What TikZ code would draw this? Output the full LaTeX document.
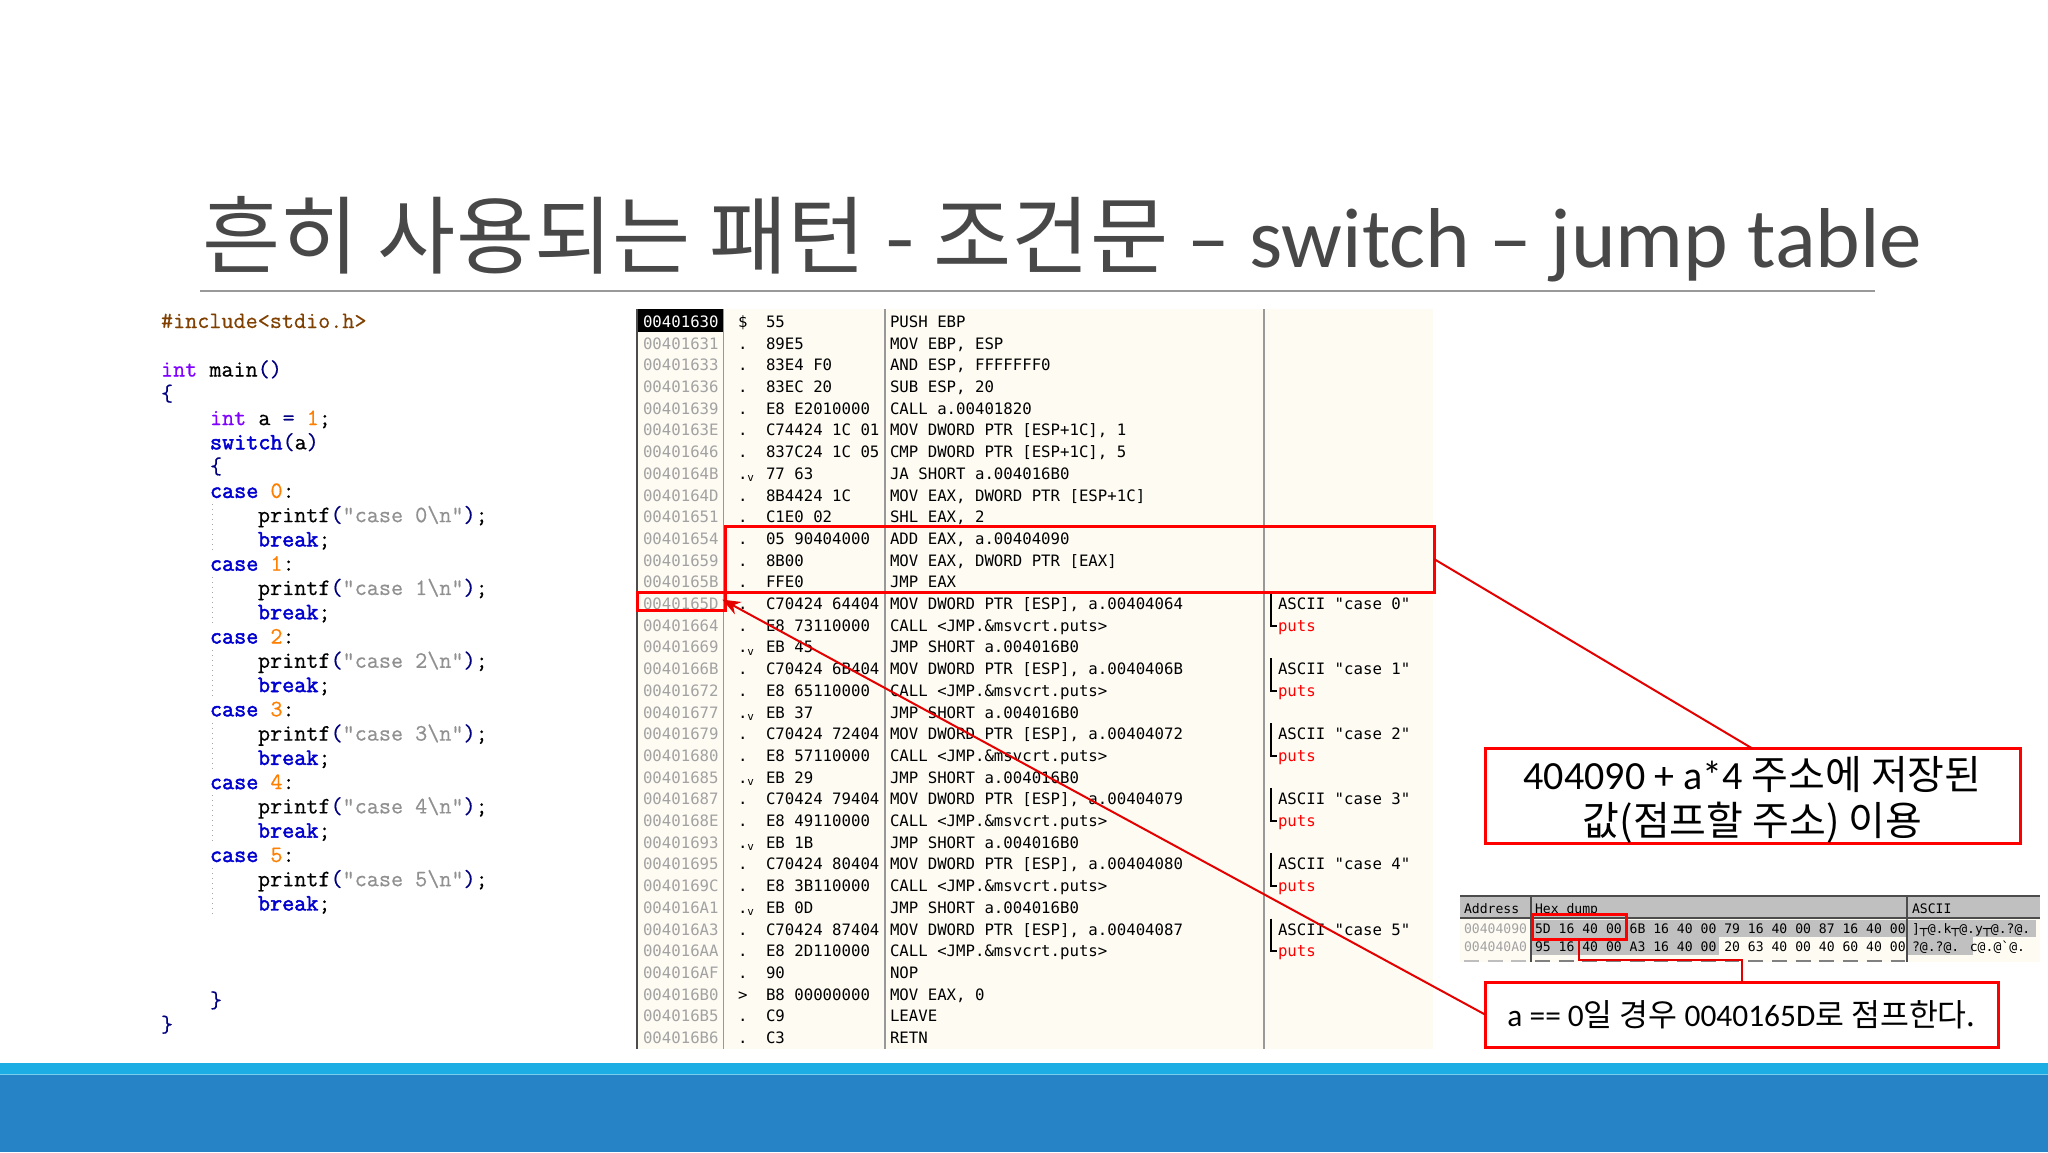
\documentclass[tikz,border=0pt]{standalone}
\usepackage{fontspec}
\usetikzlibrary{arrows.meta,calc}
\newfontfamily\krfont{Noto Sans CJK KR}
\newfontfamily\latfont{Carlito}
\newfontfamily\ollyfont{DejaVu Sans Mono}
\newfontfamily\codefont[FakeBold=0.5]{Latin Modern Mono}
\newfontfamily\codeheavy[FakeBold=2]{Latin Modern Mono}
\definecolor{cream}{HTML}{FEFBF3}
\definecolor{addrgray}{HTML}{A2A2A2}
\definecolor{hdrgray}{HTML}{C0C0C0}
\definecolor{cpurple}{HTML}{8000FF}
\definecolor{cblue}{HTML}{0000D0}
\definecolor{cnavy}{HTML}{000080}
\definecolor{corange}{HTML}{FF8000}
\definecolor{cstr}{HTML}{909090}
\definecolor{cbrown}{HTML}{804000}
\definecolor{titlegray}{HTML}{484848}
\definecolor{skyband}{HTML}{1CADE4}
\definecolor{deepband}{HTML}{2683C6}
\newcommand{\K}[1]{{\krfont #1}}
\newcommand{\kw}[1]{{\codeheavy\textcolor{cblue}{#1}}}
\tikzset{
  olly/.style={inner sep=0pt,outer sep=0pt,anchor=base west,font=\ollyfont\fontsize{7.85}{9}\selectfont,text=black},
  dumpt/.style={inner sep=0pt,outer sep=0pt,anchor=base west,font=\ollyfont\fontsize{6.55}{8}\selectfont,text=black},
  code/.style={inner sep=0pt,outer sep=0pt,anchor=base west,font=\codefont\fontsize{11.74}{13}\selectfont,text=black},
  redbox/.style={draw=red,line width=1.5pt,inner sep=0pt,outer sep=0pt},
  redline/.style={draw=red!90!black,line width=1pt},
  callout/.style={redbox,fill=white,align=center,text=black,font=\latfont},
  guide/.style={draw=gray!70,line width=.5pt,dotted},
  sep/.style={draw=gray!80,line width=.6pt},
  brk/.style={draw=black,line width=.8pt},
  cutrow/.style={line width=1pt,dash pattern=on 7.4pt off 4.45pt}
}
\newcommand{\mkv}{.\raisebox{-1.2pt}{\fontsize{5.5}{6}\selectfont v}}
\newcommand{\orow}[5]{%
  \pgfmathsetmacro\yy{327.4+21.7*#1}
  \node[olly,text=addrgray] (a#1) at (643,\yy) {#2};
  \node[olly] (m#1) at (738,\yy) {#3};
  \node[olly] (h#1) at (766,\yy) {#4};
  \node[olly] (d#1) at (890,\yy) {#5};
}
\newcommand{\ocom}[2]{%
  \pgfmathsetmacro\yy{327.4+21.7*#1}
  \pgfmathsetmacro\yz{\yy+21.7}
  \node[olly] (ca#1) at (1278,\yy) {ASCII "case #2"};
  \node[olly,text=red] (cp#1) at (1278,\yz) {puts};
  \coordinate (bt#1) at (1271,\yy-16.5);
  \coordinate (bb#1) at (1271,\yz-5.5);
  \coordinate (be#1) at (1277,\yz-5.5);
  \draw[brk] (bt#1) -- (bb#1) -- (be#1);
}
\newcommand{\cl}[3]{%
  \pgfmathsetmacro\yy{328+24.27*#1}
  \node[code] (c#1) at (#2,\yy) {#3};
}
\newcommand{\casecode}[1]{%
  \pgfmathtruncatemacro\la{7+3*#1}
  \pgfmathtruncatemacro\lb{8+3*#1}
  \pgfmathtruncatemacro\lc{9+3*#1}
  \cl{\la}{210}{\kw{case} \textcolor{corange}{#1}:}
  \cl{\lb}{258}{printf\textcolor{cnavy}{(}\textcolor{cstr}{"case #1\textbackslash n"}\textcolor{cnavy}{)};}
  \cl{\lc}{258}{\kw{break};}
  \draw[guide] (212,322+24.27*\lb-12) -- (212,322+24.27*\lc+12);
}
\begin{document}
\begin{tikzpicture}[x=0.5pt,y=-0.5pt]
\useasboundingbox (0,0) rectangle (2048,1152);
\fill[white] (0,0) rectangle (2048,1152);
% bands
\fill[skyband] (0,1063) rectangle (2048,1075);
\fill[deepband] (0,1075) rectangle (2048,1152);
\fill[skyband!60!white] (0,1074) rectangle (2048,1075);
% title
\node[inner sep=0pt,anchor=base west,text=titlegray,font=\latfont\fontsize{42.5}{46}\selectfont] (title) at (202,267)
  {\K{흔히 사용되는 패턴 - 조건문} – switch – jump table};
\coordinate (ruleL) at (200,291);
\coordinate (ruleR) at (1875,291);
\draw[draw=gray!80,line width=.6pt] (ruleL) -- (ruleR);
% source code
\cl{0}{161}{\textcolor{cbrown}{\#include<stdio.h>}}
\cl{2}{161}{\textcolor{cpurple}{int} main\textcolor{cnavy}{()}}
\cl{3}{161}{\textcolor{cnavy}{\{}}
\cl{4}{210}{\textcolor{cpurple}{int} a \textcolor{cnavy}{=} \textcolor{corange}{1};}
\cl{5}{210}{\kw{switch}\textcolor{cnavy}{(}a\textcolor{cnavy}{)}}
\cl{6}{210}{\textcolor{cnavy}{\{}}
\casecode{0}\casecode{1}\casecode{2}\casecode{3}\casecode{4}\casecode{5}
\cl{28}{210}{\textcolor{cnavy}{\}}}
\cl{29}{161}{\textcolor{cnavy}{\}}}
% disassembly panel
\fill[cream] (637,309) rectangle (1433,1049);
\fill[black] (637,309) rectangle (723,332);
\draw[draw=black!70,line width=.7pt] (637,309) -- (637,1049);
\draw[sep] (723.5,309) -- (723.5,1049);
\draw[sep] (885,309) -- (885,1049);
\draw[sep] (1264,309) -- (1264,1049);
\orow{0}{\textcolor{white}{00401630}}{\$}{55}{PUSH EBP}
\orow{1}{00401631}{.}{89E5}{MOV EBP, ESP}
\orow{2}{00401633}{.}{83E4 F0}{AND ESP, FFFFFFF0}
\orow{3}{00401636}{.}{83EC 20}{SUB ESP, 20}
\orow{4}{00401639}{.}{E8 E2010000}{CALL a.00401820}
\orow{5}{0040163E}{.}{C74424 1C 01}{MOV DWORD PTR [ESP+1C], 1}
\orow{6}{00401646}{.}{837C24 1C 05}{CMP DWORD PTR [ESP+1C], 5}
\orow{7}{0040164B}{\mkv}{77 63}{JA SHORT a.004016B0}
\orow{8}{0040164D}{.}{8B4424 1C}{MOV EAX, DWORD PTR [ESP+1C]}
\orow{9}{00401651}{.}{C1E0 02}{SHL EAX, 2}
\orow{10}{00401654}{.}{05 90404000}{ADD EAX, a.00404090}
\orow{11}{00401659}{.}{8B00}{MOV EAX, DWORD PTR [EAX]}
\orow{12}{0040165B}{.}{FFE0}{JMP EAX}
\orow{13}{0040165D}{.}{C70424 64404}{MOV DWORD PTR [ESP], a.00404064}
\orow{14}{00401664}{.}{E8 73110000}{CALL <JMP.\&msvcrt.puts>}
\orow{15}{00401669}{\mkv}{EB 45}{JMP SHORT a.004016B0}
\orow{16}{0040166B}{.}{C70424 6B404}{MOV DWORD PTR [ESP], a.0040406B}
\orow{17}{00401672}{.}{E8 65110000}{CALL <JMP.\&msvcrt.puts>}
\orow{18}{00401677}{\mkv}{EB 37}{JMP SHORT a.004016B0}
\orow{19}{00401679}{.}{C70424 72404}{MOV DWORD PTR [ESP], a.00404072}
\orow{20}{00401680}{.}{E8 57110000}{CALL <JMP.\&msvcrt.puts>}
\orow{21}{00401685}{\mkv}{EB 29}{JMP SHORT a.004016B0}
\orow{22}{00401687}{.}{C70424 79404}{MOV DWORD PTR [ESP], a.00404079}
\orow{23}{0040168E}{.}{E8 49110000}{CALL <JMP.\&msvcrt.puts>}
\orow{24}{00401693}{\mkv}{EB 1B}{JMP SHORT a.004016B0}
\orow{25}{00401695}{.}{C70424 80404}{MOV DWORD PTR [ESP], a.00404080}
\orow{26}{0040169C}{.}{E8 3B110000}{CALL <JMP.\&msvcrt.puts>}
\orow{27}{004016A1}{\mkv}{EB 0D}{JMP SHORT a.004016B0}
\orow{28}{004016A3}{.}{C70424 87404}{MOV DWORD PTR [ESP], a.00404087}
\orow{29}{004016AA}{.}{E8 2D110000}{CALL <JMP.\&msvcrt.puts>}
\orow{30}{004016AF}{.}{90}{NOP}
\orow{31}{004016B0}{>}{B8 00000000}{MOV EAX, 0}
\orow{32}{004016B5}{.}{C9}{LEAVE}
\orow{33}{004016B6}{.}{C3}{RETN}
\ocom{13}{0}\ocom{16}{1}\ocom{19}{2}\ocom{22}{3}\ocom{25}{4}\ocom{28}{5}
% hex dump
\fill[cream] (1460,918) rectangle (2040,962);
\fill[hdrgray] (1460,896) rectangle (2040,918);
\fill[hdrgray] (1532,920) rectangle (1907,937);
\fill[hdrgray] (1532,937) rectangle (1719,955);
\fill[hdrgray] (1907,920) rectangle (2036,937);
\fill[hdrgray] (1907,937) rectangle (1973,955);
\draw[draw=black!70,line width=.6pt] (1460,896) -- (2040,896);
\draw[draw=black!70,line width=.8pt] (1460,918) -- (2040,918);
\draw[draw=black!70,line width=.6pt] (1531,896) -- (1531,962);
\draw[draw=black!70,line width=.6pt] (1907,896) -- (1907,962);
\node[dumpt] (hA) at (1464,913) {Address};
\node[dumpt] (hH) at (1535,913) {Hex dump};
\node[dumpt] (hS) at (1912,913) {ASCII};
\node[dumpt,text=addrgray] (r1a) at (1464,933) {00404090};
\node[dumpt] (r1h) at (1535,933) {5D 16 40 00 6B 16 40 00 79 16 40 00 87 16 40 00};
\node[dumpt] (r1s) at (1912,933) {]┬@.k┬@.y┬@.?@.};
\node[dumpt,text=addrgray] (r2a) at (1464,951) {004040A0};
\node[dumpt] (r2h) at (1535,951) {95 16 40 00 A3 16 40 00 20 63 40 00 40 60 40 00};
\node[dumpt] (r2s) at (1912,951) {?@.?@. c@.@`@.};
\coordinate (cutA) at (1464,961);
\coordinate (cutB) at (1527,961);
\coordinate (cutC) at (1535,961);
\coordinate (cutD) at (1905,961);
\draw[cutrow,draw=addrgray!70] (cutA) -- (cutB);
\draw[cutrow,draw=black!50] (cutC) -- (cutD);
% red marks
\node[redbox,minimum width=354.5pt,minimum height=33pt] (box1) at (1079.5,559) {};
\node[redbox,minimum width=44pt,minimum height=9pt] (box2) at (681,601) {};
\node[redbox,minimum width=47pt,minimum height=12.5pt] (sb) at (1579,926.5) {};
% callouts
\node[callout,minimum width=267.5pt,minimum height=46pt,font=\latfont\fontsize{20}{23}\selectfont] (bb) at (1752.5,796)
  {\rule{0pt}{20.5pt}404090 + a*4 \K{주소에 저장된}\\\K{값(점프할 주소) 이용}};
\node[callout,minimum width=256.5pt,minimum height=32.5pt,font=\latfont\fontsize{15.7}{20}\selectfont] (ba) at (1741.5,1014.5)
  {a == 0\K{일 경우 }0040165D\K{로 점프한다.}};
% connectors
\draw[redline] (box1.east) -- (bb.north);
\draw[redline,shorten >=-1.5pt,-{Stealth[length=9pt,width=7pt]}] (ba.west) -- (box2.east);
\coordinate (elb) at (1650,960);
\draw[redline] (sb.south) |- (elb) -| (ba.north);
\end{tikzpicture}
\end{document}
